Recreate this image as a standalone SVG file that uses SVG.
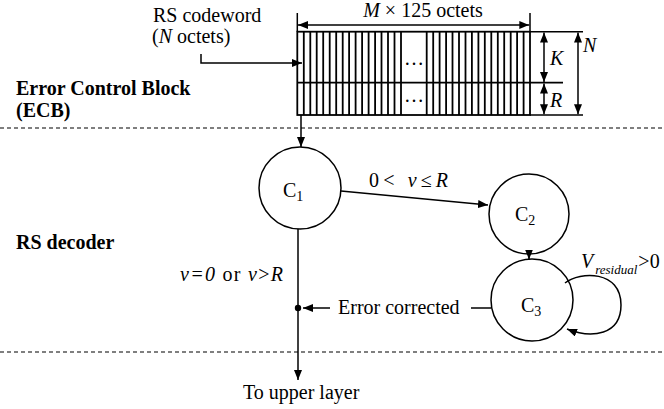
<svg xmlns="http://www.w3.org/2000/svg" width="664" height="409" viewBox="0 0 664 409">
<style>
text{font-size:20px;fill:#000}
.b{font-weight:bold}
.i{font-style:italic}
.ln{stroke:#000;stroke-width:1.5;fill:none}
.st{stroke:#000;stroke-width:1.8}
.dash{stroke:#000;stroke-width:1.2;stroke-dasharray:4,3}
.node{fill:#fff;stroke:#000;stroke-width:1.5}
</style>
<defs>
<marker id="ah" markerUnits="userSpaceOnUse" markerWidth="10" markerHeight="8" refX="10" refY="4" orient="auto-start-reverse">
<path d="M0,0 L10,4 L0,8 z" fill="#000"/>
</marker>
</defs>
<rect width="664" height="409" fill="#fff"/>
<g font-family="Liberation Serif, Times New Roman, Times, serif">
<g id="separators">
<line class="dash" x1="0" y1="128" x2="664" y2="128"/>
<line class="dash" x1="0" y1="352" x2="664" y2="352"/>
</g>
<g id="section-labels">
<text class="b" x="16" y="95">Error Control Block</text>
<text class="b" x="16" y="117">(ECB)</text>
<text class="b" x="16" y="249">RS decoder</text>
</g>
<g id="codeword-label">
<text x="153" y="22">RS codeword</text>
<text x="152" y="43">(<tspan class="i">N</tspan> octets)</text>
</g>
<g id="ecb-grid">
<rect x="297.3" y="31.7" width="232.7" height="83.3" fill="none" stroke="#000" stroke-width="1.8"/>
<line class="st" x1="297.3" y1="82.7" x2="563" y2="82.7"/>
<g class="st">
<line x1="303.8" y1="31.7" x2="303.8" y2="115"/>
<line x1="310.3" y1="31.7" x2="310.3" y2="115"/>
<line x1="316.7" y1="31.7" x2="316.7" y2="115"/>
<line x1="323.2" y1="31.7" x2="323.2" y2="115"/>
<line x1="329.7" y1="31.7" x2="329.7" y2="115"/>
<line x1="336.2" y1="31.7" x2="336.2" y2="115"/>
<line x1="342.7" y1="31.7" x2="342.7" y2="115"/>
<line x1="349.1" y1="31.7" x2="349.1" y2="115"/>
<line x1="355.6" y1="31.7" x2="355.6" y2="115"/>
<line x1="362.1" y1="31.7" x2="362.1" y2="115"/>
<line x1="368.6" y1="31.7" x2="368.6" y2="115"/>
<line x1="375.1" y1="31.7" x2="375.1" y2="115"/>
<line x1="381.5" y1="31.7" x2="381.5" y2="115"/>
<line x1="388.0" y1="31.7" x2="388.0" y2="115"/>
<line x1="394.5" y1="31.7" x2="394.5" y2="115"/>
<line x1="401.0" y1="31.7" x2="401.0" y2="115"/>
<line x1="426.7" y1="31.7" x2="426.7" y2="115"/>
<line x1="433.2" y1="31.7" x2="433.2" y2="115"/>
<line x1="439.6" y1="31.7" x2="439.6" y2="115"/>
<line x1="446.1" y1="31.7" x2="446.1" y2="115"/>
<line x1="452.5" y1="31.7" x2="452.5" y2="115"/>
<line x1="459.0" y1="31.7" x2="459.0" y2="115"/>
<line x1="465.5" y1="31.7" x2="465.5" y2="115"/>
<line x1="471.9" y1="31.7" x2="471.9" y2="115"/>
<line x1="478.4" y1="31.7" x2="478.4" y2="115"/>
<line x1="484.8" y1="31.7" x2="484.8" y2="115"/>
<line x1="491.3" y1="31.7" x2="491.3" y2="115"/>
<line x1="497.8" y1="31.7" x2="497.8" y2="115"/>
<line x1="504.2" y1="31.7" x2="504.2" y2="115"/>
<line x1="510.7" y1="31.7" x2="510.7" y2="115"/>
<line x1="517.1" y1="31.7" x2="517.1" y2="115"/>
<line x1="523.6" y1="31.7" x2="523.6" y2="115"/>
</g>
<text x="414" y="65" text-anchor="middle">…</text>
<text x="414" y="102" text-anchor="middle">…</text>
</g>
<g id="dimensions">
<line class="ln" x1="297.3" y1="13" x2="297.3" y2="31.7"/>
<line class="ln" x1="530" y1="13" x2="530" y2="31.7"/>
<line class="ln" x1="298" y1="25" x2="529.3" y2="25" marker-start="url(#ah)" marker-end="url(#ah)"/>
<text x="423" y="17" text-anchor="middle"><tspan class="i">M</tspan> × 125 octets</text>
<line class="ln" x1="530" y1="31.7" x2="583" y2="31.7"/>
<line class="ln" x1="530" y1="115" x2="583" y2="115"/>
<line class="ln" x1="544" y1="32.5" x2="544" y2="82" marker-start="url(#ah)" marker-end="url(#ah)"/>
<line class="ln" x1="544" y1="83.5" x2="544" y2="114.2" marker-start="url(#ah)" marker-end="url(#ah)"/>
<line class="ln" x1="578" y1="32.5" x2="578" y2="114.2" marker-start="url(#ah)" marker-end="url(#ah)"/>
<text class="i" x="550" y="65">K</text>
<text class="i" x="550" y="107">R</text>
<text class="i" x="583" y="52">N</text>
</g>
<g id="c1">
<circle class="node" cx="300" cy="188" r="41"/>
<text x="283" y="197">C<tspan font-size="14" dy="4">1</tspan></text>
</g>
<g id="c2">
<circle class="node" cx="529" cy="214" r="40"/>
<text x="515" y="221">C<tspan font-size="14" dy="4">2</tspan></text>
</g>
<g id="c3">
<circle class="node" cx="532" cy="300" r="41"/>
<text x="521" y="312">C<tspan font-size="14" dy="4">3</tspan></text>
</g>
<g id="connectors">
<path class="ln" d="M201 54 V63 H302" marker-end="url(#ah)"/>
<line class="ln" x1="301" y1="115" x2="301" y2="147" marker-end="url(#ah)"/>
<line class="ln" x1="341" y1="191" x2="488" y2="205" marker-end="url(#ah)"/>
<line class="ln" x1="529" y1="252" x2="529" y2="259.5" marker-end="url(#ah)"/>
<line class="ln" x1="298" y1="229" x2="298" y2="380" marker-end="url(#ah)"/>
<circle cx="298" cy="308" r="3.2" fill="#000"/>
<line class="ln" x1="330" y1="308" x2="303" y2="308" marker-end="url(#ah)"/>
<line class="ln" x1="471" y1="308" x2="491" y2="308"/>
<path class="ln" d="M565 283 C580 271 621 270 621 305 C621 335 592 339 567 329" marker-end="url(#ah)"/>
<text x="369" y="187" textLength="79" lengthAdjust="spacing">0&lt; <tspan class="i">ν</tspan>≤<tspan class="i">R</tspan></text>
<text x="180" y="281" textLength="103" lengthAdjust="spacing"><tspan class="i">ν</tspan><tspan class="i">=0</tspan> or <tspan class="i">ν</tspan>&gt;<tspan class="i">R</tspan></text>
<text x="338" y="314">Error corrected</text>
<text x="581" y="268"><tspan class="i">V</tspan><tspan class="i" font-size="13" dx="2" dy="6">residual</tspan><tspan dx="1" dy="-6">&gt;0</tspan></text>
<text x="243" y="399">To upper layer</text>
</g>
</g>
</svg>
